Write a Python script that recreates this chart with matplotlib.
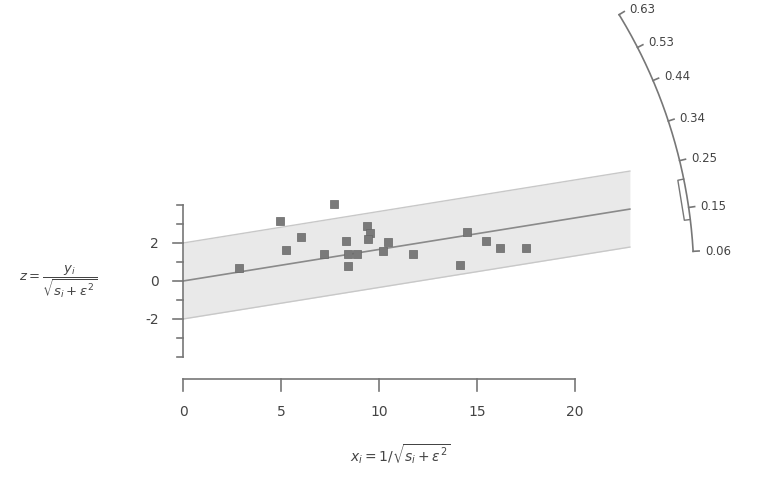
import matplotlib
matplotlib.use("Agg")
import matplotlib.pyplot as plt
import numpy as np

# radial plot values
x_prec = [2.86, 4.95, 5.26, 6.02, 7.19, 7.70, 8.32, 8.42, 8.42, 8.88, 9.39,
          9.54, 9.44, 10.20, 10.46, 11.73, 14.13, 14.49, 15.46, 16.17, 17.50]
z_std = [0.68, 3.16, 1.63, 2.32, 1.42, 4.05, 2.11, 1.42, 0.79, 1.42, 2.89,
         2.53, 2.21, 1.58, 2.05, 1.42, 0.84, 2.58, 2.11, 1.74, 1.74]
central = 0.166
band_end = 22.8
x_ticks = [0, 5, 10, 15, 20]
y_ticks = [-4, -3, -2, -1, 0, 1, 2, 3, 4]
y_labels = [-2, 0, 2]
arc_ticks = [0.06, 0.15, 0.25, 0.34, 0.44, 0.53, 0.63]
arc_labels = ["0.06", "0.15", "0.25", "0.34", "0.44", "0.53", "0.63"]
ci = (0.125, 0.21)

# pixel scale of the reference (origin at px 183, 282)
sx, sy = 19.6, 19.0
W, H = 759, 481
ox, oy = 183, 282

fig = plt.figure(figsize=(W / 100, H / 100), dpi=100)
ax = fig.add_axes([0, 0, 1, 1])
ax.set_xlim(-ox / sx, (W - ox) / sx)
ax.set_ylim((oy - H) / sy, oy / sy)
ax.axis("off")

line_c = "#777777"
text_c = "#444444"

# 2-sigma band and central line
bx = np.array([0, band_end])
ax.fill_between(bx, central * bx - 2, central * bx + 2, color="#e9e9e9", lw=0, zorder=1)
ax.plot(bx, central * bx + 2, color="#c8c8c8", lw=1, zorder=2)
ax.plot(bx, central * bx - 2, color="#c8c8c8", lw=1, zorder=2)
ax.plot(bx, central * bx, color="#8a8a8a", lw=1.2, zorder=2)

# data points
ax.scatter(x_prec, z_std, marker="s", s=30, color="#7a7a7a", edgecolor="#666666",
           lw=0.5, zorder=3)

# y axis (standardised estimate)
ax.plot([0, 0], [y_ticks[0], y_ticks[-1]], color=line_c, lw=1.2)
for t in y_ticks:
    ln = 10 if t in y_labels else 6
    ax.plot([0, -ln / sx], [t, t], color=line_c, lw=1.2)
for t in y_labels:
    ax.text(-24 / sx, t, str(t), ha="right", va="center", fontsize=10, color=text_c)

# x axis (precision)
xa = -98 / sy
ax.plot([x_ticks[0], x_ticks[-1]], [xa, xa], color=line_c, lw=1.2)
for t in x_ticks:
    ax.plot([t, t], [xa, xa - 12 / sy], color=line_c, lw=1.2)
    ax.text(t, xa - 32 / sy, str(t), ha="center", va="center", fontsize=10, color=text_c)

ax.text(217 / sx, -172 / sy, r"$x_i = 1/\sqrt{s_i + \epsilon^2}$", ha="center",
        va="center", fontsize=10, color=text_c)
ax.text(-125 / sx, 0, r"$z = \dfrac{y_i}{\sqrt{s_i + \epsilon^2}}$", ha="center",
        va="center", fontsize=9.5, color=text_c)

# radial scale arc (drawn in pixel-equal units)
R = 511.0


def arc_pt(v, r):
    th = np.arctan(v * sy / sx)
    return r * np.cos(th) / sx, r * np.sin(th) / sy


vs = np.linspace(arc_ticks[0], arc_ticks[-1], 200)
ax_, az_ = arc_pt(vs, R)
ax.plot(ax_, az_, color=line_c, lw=1.2)
for v, lab in zip(arc_ticks, arc_labels):
    p0 = arc_pt(v, R)
    p1 = arc_pt(v, R + 6)
    ax.plot([p0[0], p1[0]], [p0[1], p1[1]], color=line_c, lw=1.2)
    pl = arc_pt(v, R + 12)
    ax.text(pl[0], pl[1], lab, ha="left", va="center", fontsize=8.5, color=text_c)

# confidence bracket of the central value
b0 = arc_pt(ci[0], R)
b1 = arc_pt(ci[0], R - 6)
b2 = arc_pt(ci[1], R - 6)
b3 = arc_pt(ci[1], R)
ax.plot([b0[0], b1[0], b2[0], b3[0]], [b0[1], b1[1], b2[1], b3[1]], color=line_c, lw=1)

fig.savefig("out.png", dpi=100)
